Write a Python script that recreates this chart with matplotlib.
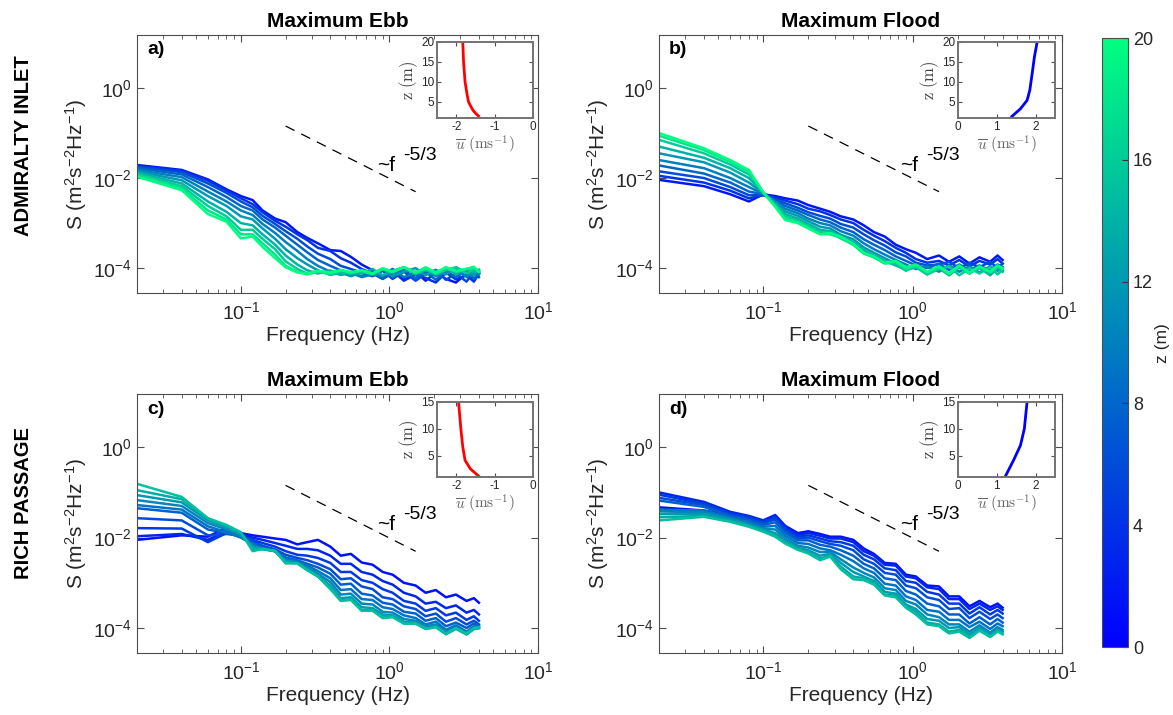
import numpy as np
import matplotlib
matplotlib.use('Agg')
import matplotlib.pyplot as plt
from matplotlib import colors, ticker
from matplotlib.cm import ScalarMappable

plt.rcParams['font.family'] = ['Liberation Sans', 'DejaVu Sans']
plt.rcParams['mathtext.fontset'] = 'custom'
plt.rcParams['mathtext.rm'] = 'Liberation Sans'
plt.rcParams['mathtext.it'] = 'Liberation Sans:italic'
plt.rcParams['mathtext.bf'] = 'Liberation Sans:bold'
plt.rcParams['axes.unicode_minus'] = False

# frequencies (Hz) at which spectra were read
freq = [0.02, 0.04, 0.06, 0.08, 0.10, 0.12, 0.14, 0.17, 0.20, 0.24, 0.28, 0.33, 0.40, 0.47,
        0.55, 0.65, 0.77, 0.90, 1.05, 1.25, 1.5, 1.75, 2.05, 2.4, 2.8, 3.3, 3.7, 4.0]

z_ai = [2, 4, 6, 8, 10, 12, 14, 16, 18, 20]
z_rp = [1.5, 3, 4.5, 6, 7.5, 9, 10.5, 12, 13.5, 15]

# log10 S, one row per height
logS_a = [
    [-1.71, -1.82, -2.03, -2.25, -2.40, -2.49, -2.72, -2.90, -2.98, -3.20, -3.33, -3.45, -3.60, -3.62, -3.75, -3.92, -4.05, -4.18, -4.02, -4.26, -4.08, -4.28, -4.10, -4.24, -4.32, -4.12, -4.26, -4.10],
    [-1.73, -1.84, -2.06, -2.28, -2.45, -2.58, -2.76, -2.95, -3.08, -3.25, -3.38, -3.55, -3.62, -3.78, -3.88, -4.02, -4.12, -4.24, -4.06, -4.28, -4.14, -4.22, -4.32, -4.10, -4.25, -4.16, -4.30, -4.12],
    [-1.75, -1.87, -2.12, -2.33, -2.52, -2.65, -2.84, -3.02, -3.18, -3.35, -3.52, -3.68, -3.80, -3.95, -4.02, -4.10, -4.18, -4.06, -4.24, -4.08, -4.28, -4.12, -4.04, -4.26, -4.12, -4.30, -4.08, -4.20],
    [-1.78, -1.92, -2.20, -2.42, -2.62, -2.72, -2.92, -3.10, -3.28, -3.48, -3.65, -3.82, -3.95, -4.05, -4.12, -4.18, -4.08, -4.24, -4.12, -4.04, -4.22, -4.08, -4.26, -4.06, -4.20, -4.04, -4.24, -4.12],
    [-1.82, -1.98, -2.30, -2.52, -2.72, -2.82, -3.02, -3.22, -3.42, -3.62, -3.80, -3.95, -4.08, -4.15, -4.10, -4.20, -4.14, -4.18, -4.02, -4.20, -4.10, -4.02, -4.18, -4.06, -4.00, -4.20, -4.06, -4.14],
    [-1.85, -2.05, -2.40, -2.62, -2.85, -2.92, -3.12, -3.35, -3.58, -3.78, -3.92, -4.05, -4.15, -4.10, -4.18, -4.10, -4.12, -4.02, -4.18, -4.08, -4.00, -4.16, -4.04, -4.14, -3.98, -4.10, -4.16, -4.04],
    [-1.88, -2.12, -2.52, -2.75, -3.00, -3.05, -3.25, -3.48, -3.72, -3.92, -4.05, -4.12, -4.05, -4.15, -4.08, -4.12, -4.02, -4.16, -4.06, -3.98, -4.14, -4.04, -4.12, -3.98, -4.14, -4.02, -4.10, -4.04],
    [-1.91, -2.18, -2.62, -2.85, -3.15, -3.15, -3.35, -3.58, -3.85, -4.02, -4.12, -4.06, -4.14, -4.08, -4.12, -4.05, -4.12, -4.02, -4.10, -3.98, -4.12, -4.02, -4.14, -4.04, -3.98, -4.12, -4.02, -4.08],
    [-1.94, -2.23, -2.72, -2.92, -3.25, -3.25, -3.45, -3.70, -3.95, -4.08, -4.14, -4.08, -4.12, -4.05, -4.10, -4.06, -4.14, -4.02, -4.08, -3.98, -4.10, -4.00, -4.12, -4.00, -4.08, -4.02, -3.98, -4.08],
    [-1.97, -2.27, -2.80, -2.97, -3.34, -3.30, -3.53, -3.78, -3.98, -4.10, -4.12, -4.06, -4.10, -4.04, -4.09, -4.05, -4.12, -4.00, -4.08, -3.98, -4.10, -3.98, -4.10, -3.98, -4.06, -4.02, -3.97, -4.08],
]

logS_b = [
    [-2.04, -2.18, -2.36, -2.52, -2.36, -2.40, -2.45, -2.50, -2.60, -2.68, -2.75, -2.85, -2.92, -3.05, -3.20, -3.30, -3.48, -3.58, -3.66, -3.80, -3.72, -3.86, -3.74, -3.90, -3.76, -3.86, -3.72, -3.82],
    [-1.95, -2.10, -2.28, -2.45, -2.38, -2.44, -2.50, -2.58, -2.68, -2.74, -2.82, -2.92, -3.00, -3.15, -3.28, -3.40, -3.55, -3.66, -3.80, -3.88, -3.84, -3.94, -3.82, -3.96, -3.84, -3.92, -3.80, -3.90],
    [-1.85, -2.00, -2.20, -2.38, -2.38, -2.48, -2.56, -2.66, -2.76, -2.84, -2.90, -3.02, -3.10, -3.25, -3.38, -3.50, -3.65, -3.74, -3.88, -3.94, -3.92, -3.86, -4.00, -3.88, -3.98, -3.86, -4.00, -3.90],
    [-1.72, -1.90, -2.10, -2.30, -2.36, -2.50, -2.62, -2.72, -2.82, -2.92, -2.98, -3.10, -3.20, -3.36, -3.48, -3.60, -3.74, -3.84, -3.94, -4.00, -3.90, -4.04, -3.92, -4.04, -3.94, -4.06, -3.92, -3.98],
    [-1.60, -1.78, -2.00, -2.20, -2.35, -2.52, -2.68, -2.78, -2.90, -3.00, -3.05, -3.18, -3.28, -3.45, -3.58, -3.70, -3.82, -3.92, -4.02, -3.96, -4.08, -3.94, -4.08, -3.96, -4.10, -3.96, -4.06, -3.98],
    [-1.45, -1.65, -1.88, -2.10, -2.34, -2.55, -2.74, -2.84, -2.96, -3.08, -3.12, -3.26, -3.36, -3.54, -3.66, -3.78, -3.90, -4.00, -3.94, -4.10, -3.98, -4.12, -3.96, -4.10, -4.00, -4.14, -3.98, -4.06],
    [-1.30, -1.55, -1.78, -2.00, -2.33, -2.58, -2.80, -2.90, -3.02, -3.15, -3.18, -3.30, -3.42, -3.60, -3.72, -3.84, -3.94, -4.04, -3.98, -4.14, -4.00, -4.16, -3.98, -4.12, -3.98, -4.16, -4.00, -4.08],
    [-1.15, -1.45, -1.70, -1.92, -2.32, -2.60, -2.85, -2.95, -3.06, -3.20, -3.22, -3.34, -3.48, -3.66, -3.76, -3.88, -3.90, -4.06, -3.96, -4.14, -4.02, -3.96, -4.16, -4.00, -4.12, -3.98, -4.14, -4.04],
    [-1.06, -1.38, -1.64, -1.86, -2.32, -2.62, -2.90, -2.98, -3.10, -3.24, -3.25, -3.32, -3.48, -3.68, -3.76, -3.90, -3.86, -4.02, -3.94, -4.10, -3.98, -4.14, -3.96, -4.12, -3.98, -4.10, -3.96, -4.02],
    [-1.00, -1.34, -1.60, -1.82, -2.32, -2.64, -2.93, -3.00, -3.12, -3.25, -3.22, -3.30, -3.46, -3.66, -3.74, -3.88, -3.84, -3.98, -3.92, -4.08, -3.96, -4.12, -3.94, -4.10, -3.96, -4.08, -3.94, -4.00],
]

logS_c = [
    [-2.05, -1.95, -1.98, -1.78, -1.90, -1.95, -1.98, -2.02, -2.05, -2.15, -2.10, -2.05, -2.20, -2.40, -2.36, -2.55, -2.60, -2.76, -2.82, -3.00, -3.06, -3.22, -3.16, -3.32, -3.26, -3.40, -3.34, -3.44],
    [-1.97, -1.92, -2.05, -1.85, -1.92, -2.00, -2.05, -2.12, -2.18, -2.25, -2.25, -2.28, -2.40, -2.58, -2.58, -2.76, -2.82, -2.96, -3.04, -3.22, -3.30, -3.46, -3.42, -3.56, -3.50, -3.66, -3.60, -3.70],
    [-1.79, -1.80, -2.10, -1.90, -1.95, -2.05, -2.12, -2.20, -2.30, -2.38, -2.40, -2.45, -2.56, -2.76, -2.76, -2.94, -3.00, -3.14, -3.22, -3.40, -3.46, -3.62, -3.56, -3.72, -3.66, -3.82, -3.74, -3.84],
    [-1.57, -1.62, -1.95, -1.92, -1.95, -2.08, -2.18, -2.26, -2.38, -2.45, -2.50, -2.58, -2.70, -2.92, -2.90, -3.08, -3.14, -3.32, -3.36, -3.52, -3.58, -3.74, -3.68, -3.86, -3.78, -3.92, -3.84, -3.92],
    [-1.35, -1.45, -1.82, -1.90, -1.98, -2.12, -2.22, -2.30, -2.44, -2.50, -2.58, -2.66, -2.80, -3.04, -3.02, -3.24, -3.28, -3.44, -3.48, -3.64, -3.68, -3.84, -3.78, -3.96, -3.88, -4.00, -3.90, -3.96],
    [-1.28, -1.38, -1.75, -1.88, -2.00, -2.15, -2.24, -2.30, -2.48, -2.52, -2.62, -2.74, -2.90, -3.16, -3.14, -3.36, -3.38, -3.54, -3.58, -3.72, -3.78, -3.92, -3.86, -4.04, -3.94, -4.08, -3.96, -3.98],
    [-1.17, -1.30, -1.68, -1.82, -1.96, -2.18, -2.24, -2.30, -2.50, -2.55, -2.66, -2.80, -2.98, -3.26, -3.24, -3.46, -3.48, -3.64, -3.66, -3.80, -3.84, -3.96, -3.92, -4.08, -3.98, -4.12, -4.00, -4.00],
    [-1.06, -1.22, -1.62, -1.78, -1.92, -2.20, -2.25, -2.30, -2.52, -2.56, -2.70, -2.84, -3.06, -3.34, -3.32, -3.54, -3.56, -3.70, -3.72, -3.86, -3.88, -4.00, -3.96, -4.12, -4.00, -4.14, -4.02, -4.00],
    [-0.95, -1.15, -1.58, -1.75, -1.90, -2.25, -2.26, -2.30, -2.55, -2.57, -2.72, -2.86, -3.10, -3.38, -3.36, -3.60, -3.60, -3.74, -3.74, -3.90, -3.90, -4.02, -3.98, -4.14, -4.02, -4.14, -4.02, -4.00],
    [-0.81, -1.10, -1.57, -1.72, -1.88, -2.30, -2.25, -2.29, -2.57, -2.57, -2.72, -2.86, -3.14, -3.40, -3.38, -3.62, -3.62, -3.78, -3.76, -3.90, -3.90, -4.02, -3.98, -4.12, -4.00, -4.12, -4.00, -3.98],
]

logS_d = [
    [-1.33, -1.40, -1.50, -1.58, -1.62, -1.50, -1.74, -1.90, -1.86, -1.92, -1.98, -1.98, -2.05, -2.24, -2.36, -2.56, -2.58, -2.82, -2.86, -3.06, -3.08, -3.30, -3.30, -3.52, -3.40, -3.54, -3.46, -3.55],
    [-1.00, -1.21, -1.43, -1.52, -1.62, -1.52, -1.76, -1.94, -1.90, -1.96, -2.02, -2.02, -2.10, -2.30, -2.40, -2.60, -2.62, -2.86, -2.90, -3.10, -3.14, -3.36, -3.36, -3.58, -3.46, -3.60, -3.52, -3.60],
    [-1.05, -1.25, -1.46, -1.55, -1.65, -1.56, -1.80, -1.98, -1.95, -2.02, -2.08, -2.10, -2.18, -2.38, -2.48, -2.68, -2.72, -2.96, -3.00, -3.20, -3.26, -3.46, -3.46, -3.68, -3.54, -3.70, -3.60, -3.68],
    [-1.12, -1.28, -1.50, -1.58, -1.68, -1.60, -1.84, -2.02, -2.00, -2.08, -2.14, -2.18, -2.28, -2.48, -2.58, -2.78, -2.82, -3.06, -3.12, -3.32, -3.38, -3.58, -3.56, -3.78, -3.64, -3.80, -3.70, -3.78],
    [-1.18, -1.32, -1.52, -1.62, -1.72, -1.66, -1.90, -2.06, -2.06, -2.16, -2.20, -2.28, -2.40, -2.58, -2.68, -2.90, -2.94, -3.18, -3.26, -3.46, -3.52, -3.70, -3.70, -3.90, -3.76, -3.92, -3.80, -3.88],
    [-1.38, -1.40, -1.55, -1.66, -1.76, -1.74, -1.96, -2.12, -2.14, -2.24, -2.28, -2.38, -2.52, -2.68, -2.78, -3.02, -3.06, -3.30, -3.38, -3.60, -3.64, -3.82, -3.82, -3.98, -3.86, -4.02, -3.90, -3.96],
    [-1.42, -1.44, -1.58, -1.70, -1.80, -1.82, -2.02, -2.18, -2.22, -2.32, -2.32, -2.48, -2.66, -2.78, -2.88, -3.12, -3.16, -3.40, -3.48, -3.70, -3.76, -3.92, -3.92, -4.08, -3.94, -4.10, -3.98, -4.04],
    [-1.48, -1.48, -1.60, -1.72, -1.82, -1.90, -2.06, -2.22, -2.28, -2.40, -2.36, -2.56, -2.76, -2.86, -2.96, -3.20, -3.24, -3.48, -3.58, -3.80, -3.84, -4.00, -3.98, -4.14, -4.00, -4.14, -4.04, -4.08],
    [-1.55, -1.52, -1.63, -1.74, -1.85, -1.95, -2.10, -2.25, -2.32, -2.46, -2.40, -2.64, -2.86, -2.90, -3.00, -3.26, -3.28, -3.52, -3.64, -3.88, -3.92, -4.08, -4.04, -4.18, -4.04, -4.18, -4.06, -4.12],
    [-1.62, -1.54, -1.65, -1.76, -1.87, -1.98, -2.13, -2.27, -2.35, -2.50, -2.42, -2.70, -2.92, -2.94, -3.04, -3.28, -3.32, -3.55, -3.70, -3.92, -3.96, -4.12, -4.08, -4.22, -4.06, -4.20, -4.08, -4.14],
]

# mean velocity profiles for the insets
prof_a_u = [-1.42, -1.48, -1.57, -1.68, -1.72, -1.77, -1.81, -1.83]
prof_a_z = [1.5, 2, 3, 5, 7, 10, 15, 20]
prof_b_u = [1.39, 1.61, 1.78, 1.85, 1.91, 1.97, 2.04]
prof_b_z = [1.4, 3.3, 5.4, 7.9, 12, 16.3, 20]
prof_c_u = [-1.43, -1.63, -1.77, -1.83, -1.88, -1.94]
prof_c_z = [1.25, 2.5, 4.1, 6.6, 10, 15]
prof_d_u = [1.23, 1.43, 1.61, 1.71, 1.78]
prof_d_z = [1.25, 4.1, 6.9, 10, 15]

cmap = plt.get_cmap('winter')
norm = colors.Normalize(vmin=0, vmax=20)

fig = plt.figure(figsize=(11.73, 7.15), dpi=100)

axw_l, axw_r = 0.3419, 0.3436
panels = [
    ('a)', 'Maximum Ebb', [0.1168, 0.5902, axw_l, 0.3608], logS_a, z_ai,
     [0.3726, 0.835, 0.0818, 0.1063], prof_a_u, prof_a_z, 'red', (-2.5, 0), [-2, -1, 0], (1, 20), [5, 10, 15, 20]),
    ('b)', 'Maximum Flood', [0.5618, 0.5902, axw_r, 0.3608], logS_b, z_ai,
     [0.8167, 0.835, 0.0827, 0.1063], prof_b_u, prof_b_z, 'blue', (0, 2.5), [0, 1, 2], (1, 20), [5, 10, 15, 20]),
    ('c)', 'Maximum Ebb', [0.1168, 0.0867, axw_l, 0.3622], logS_c, z_rp,
     [0.3726, 0.3329, 0.0818, 0.1049], prof_c_u, prof_c_z, 'red', (-2.5, 0), [-2, -1, 0], (1, 15), [5, 10, 15]),
    ('d)', 'Maximum Flood', [0.5618, 0.0867, axw_r, 0.3622], logS_d, z_rp,
     [0.8167, 0.3329, 0.0827, 0.1049], prof_d_u, prof_d_z, 'blue', (0, 2.5), [0, 1, 2], (1, 15), [5, 10, 15]),
]

spine_col = '0.3'
for lab, title, pos, logS, zs, ipos, pu, pz, pcol, ixl, ixt, iyl, iyt in panels:
    ax = fig.add_axes(pos)
    for zz, row in zip(zs, logS):
        ax.plot(freq, 10 ** np.array(row), color=cmap(norm(zz)), lw=1.8)
    ax.set_xscale('log')
    ax.set_yscale('log')
    ax.set_xlim(0.02, 10)
    ax.set_ylim(2.8e-5, 15)
    ax.set_yticks([1e-4, 1e-2, 1e0])
    ax.yaxis.set_minor_locator(ticker.NullLocator())
    ax.set_xticks([0.1, 1, 10])
    ax.xaxis.set_minor_locator(ticker.LogLocator(base=10, subs=np.arange(2, 10)))
    ax.xaxis.set_minor_formatter(ticker.NullFormatter())
    ax.tick_params(which='both', direction='in', top=True, right=True, color=spine_col,
                   labelsize=14, labelcolor='0.15')
    ax.tick_params(which='major', length=5)
    ax.tick_params(axis='x', which='major', pad=6)
    ax.tick_params(which='minor', length=3)
    for s in ax.spines.values():
        s.set_color(spine_col)
    ax.set_xlabel('Frequency (Hz)', fontsize=15, color='0.15', labelpad=2)
    ax.set_ylabel('S (m$^{2}$s$^{-2}$Hz$^{-1}$)', fontsize=15, color='0.15')
    ax.yaxis.set_label_coords(-0.12, 0.5)
    ax.set_title(title, fontsize=15, fontweight='bold', pad=6)
    ax.text(0.025, 0.975, lab, transform=ax.transAxes, fontsize=14, fontweight='bold',
            ha='left', va='top')
    # -5/3 reference slope
    fl = np.array([0.2, 1.5])
    ax.plot(fl, 0.143 * (fl / 0.2) ** (-5 / 3), color='k', lw=0.9, dashes=(8, 6))
    ax.text(0.598, 0.474, '~f', transform=ax.transAxes, fontsize=15, ha='left', va='baseline')
    ax.text(0.663, 0.516, '-5/3', transform=ax.transAxes, fontsize=14, ha='left', va='baseline')

    # inset: mean velocity profile
    ia = fig.add_axes(ipos)
    ia.plot(pu, pz, color=pcol, lw=2)
    ia.set_xlim(*ixl)
    ia.set_ylim(*iyl)
    ia.set_xticks(ixt)
    ia.set_yticks(iyt)
    ia.tick_params(direction='in', top=True, right=True, length=3, labelsize=8.5,
                   labelcolor='0.15', color=spine_col, pad=2)
    for s in ia.spines.values():
        s.set_color('0.45')
        s.set_linewidth(1.4)
    ia.set_ylabel(r'$\mathrm{z\ (m)}$', fontsize=12, color='0.25', labelpad=1, math_fontfamily='cm')
    ia.set_xlabel(r'$\overline{u}\ \mathrm{(ms^{-1})}$', fontsize=11, color='0.4', labelpad=1,
                  math_fontfamily='cm')

fig.text(0.02, 0.797, 'ADMIRALTY INLET', rotation=90, fontsize=14.5, fontweight='bold',
         ha='center', va='center')
fig.text(0.02, 0.2965, 'RICH PASSAGE', rotation=90, fontsize=14.5, fontweight='bold',
         ha='center', va='center')

cax = fig.add_axes([0.9395, 0.0951, 0.0222, 0.8517])
cb = fig.colorbar(ScalarMappable(norm=norm, cmap=cmap), cax=cax, ticks=[0, 4, 8, 12, 16, 20])
cb.ax.tick_params(direction='in', length=4, labelsize=13, labelcolor='0.15', color='0.2')
cb.outline.set_edgecolor(spine_col)
fig.text(1162 / 1173, 0.52, 'z (m)', rotation=90, fontsize=12.5, color='0.15',
         ha='center', va='center')

fig.savefig('out.png', dpi=100)
